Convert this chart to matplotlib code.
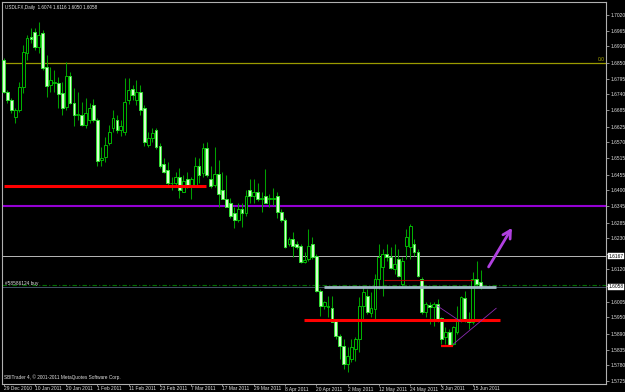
import matplotlib
matplotlib.use("Agg")
import matplotlib.pyplot as plt
import numpy as np

plt.rcParams['font.family'] = ['Liberation Sans', 'DejaVu Sans']

# ---- data (USDLFX daily, 29 Dec 2010 - 17 Jun 2011) ----
opens = [1.6861,1.6748,1.6720,1.6660,1.6685,1.6766,1.6886,1.6942,1.6960,1.6907,
         1.6957,1.6837,1.6773,1.6780,1.6780,1.6745,1.6695,1.6805,1.6709,1.6667,
         1.6667,1.6632,1.6649,1.6702,1.6649,1.6508,1.6519,1.6568,1.6621,1.6649,
         1.6614,1.6607,1.6720,1.6759,1.6720,1.6748,1.6692,1.6561,1.6586,1.6614,
         1.6558,1.6491,1.6473,1.6424,1.6427,1.6445,1.6395,1.6438,1.6413,1.6420,
         1.6484,1.6462,1.6551,1.6441,1.6420,1.6459,1.6402,1.6370,1.6353,1.6318,
         1.6296,1.6335,1.6318,1.6402,1.6381,1.6392,1.6370,1.6378,1.6367,1.6370,
         1.6378,1.6321,1.6293,1.6208,1.6226,1.6208,1.6201,1.6145,1.6155,1.6208,
         1.6166,1.6042,1.5989,1.5986,1.5982,1.5936,1.5883,1.5848,1.5785,1.5802,
         1.5838,1.5873,1.5989,1.6025,1.5965,1.5979,1.6085,1.6127,1.6173,1.6162,
         1.6120,1.6155,1.6067,1.6201,1.6198,1.6208,1.6180,1.6085,1.5968,1.5993,
         1.5986,1.5996,1.5947,1.5880,1.5898,1.5855,1.5898,1.5936,1.6018,1.5943,
         1.5933,1.6085,1.6074]
highs = [1.6868,1.6755,1.6727,1.6692,1.6784,1.6914,1.6949,1.6974,1.6974,1.6995,
         1.6967,1.6879,1.6837,1.6826,1.6801,1.6784,1.6854,1.6819,1.6762,1.6748,
         1.6713,1.6727,1.6709,1.6724,1.6656,1.6554,1.6589,1.6632,1.6685,1.6667,
         1.6649,1.6798,1.6798,1.6773,1.6791,1.6773,1.6702,1.6607,1.6621,1.6621,
         1.6568,1.6515,1.6498,1.6445,1.6466,1.6480,1.6455,1.6466,1.6445,1.6519,
         1.6515,1.6568,1.6572,1.6484,1.6554,1.6508,1.6466,1.6455,1.6374,1.6342,
         1.6353,1.6356,1.6402,1.6438,1.6441,1.6427,1.6392,1.6476,1.6385,1.6409,
         1.6392,1.6332,1.6303,1.6233,1.6251,1.6219,1.6208,1.6180,1.6261,1.6233,
         1.6173,1.6049,1.6007,1.6025,1.6025,1.5943,1.5890,1.5873,1.5845,1.5873,
         1.5880,1.6021,1.6056,1.6049,1.6039,1.6102,1.6208,1.6191,1.6208,1.6198,
         1.6208,1.6191,1.6162,1.6261,1.6279,1.6226,1.6191,1.6092,1.6003,1.6003,
         1.6003,1.6014,1.5950,1.5915,1.5908,1.5919,1.5989,1.6025,1.6042,1.5968,
         1.6109,1.6148,1.6116]
lows = [1.6745,1.6709,1.6674,1.6639,1.6678,1.6745,1.6861,1.6921,1.6897,1.6886,
        1.6826,1.6731,1.6748,1.6748,1.6692,1.6667,1.6685,1.6706,1.6628,1.6649,
        1.6628,1.6621,1.6639,1.6642,1.6487,1.6484,1.6501,1.6561,1.6607,1.6604,
        1.6593,1.6596,1.6706,1.6720,1.6702,1.6667,1.6558,1.6554,1.6572,1.6547,
        1.6480,1.6462,1.6416,1.6402,1.6413,1.6374,1.6392,1.6409,1.6367,1.6413,
        1.6427,1.6448,1.6448,1.6409,1.6413,1.6339,1.6367,1.6342,1.6303,1.6265,
        1.6289,1.6268,1.6307,1.6353,1.6356,1.6360,1.6321,1.6356,1.6342,1.6349,
        1.6303,1.6289,1.6194,1.6201,1.6162,1.6191,1.6141,1.6141,1.6148,1.6155,
        1.6039,1.5954,1.5979,1.5950,1.5933,1.5873,1.5802,1.5767,1.5756,1.5792,
        1.5795,1.5827,1.5943,1.5961,1.5950,1.5936,1.6049,1.6025,1.6148,1.6120,
        1.6102,1.6092,1.6060,1.6155,1.6155,1.6166,1.6092,1.5961,1.5950,1.5926,
        1.5919,1.5933,1.5855,1.5855,1.5848,1.5852,1.5890,1.5933,1.5933,1.5908,
        1.5926,1.6060,1.6050]
closes = [1.6748,1.6720,1.6685,1.6685,1.6766,1.6889,1.6939,1.6935,1.6907,1.6949,
          1.6833,1.6769,1.6791,1.6784,1.6741,1.6692,1.6805,1.6709,1.6667,1.6671,
          1.6632,1.6674,1.6692,1.6649,1.6505,1.6515,1.6561,1.6607,1.6656,1.6614,
          1.6628,1.6713,1.6755,1.6738,1.6748,1.6685,1.6572,1.6586,1.6604,1.6554,
          1.6487,1.6466,1.6424,1.6427,1.6445,1.6402,1.6431,1.6413,1.6438,1.6484,
          1.6455,1.6551,1.6452,1.6416,1.6459,1.6385,1.6370,1.6342,1.6310,1.6293,
          1.6332,1.6318,1.6378,1.6381,1.6392,1.6367,1.6374,1.6356,1.6374,1.6374,
          1.6321,1.6293,1.6198,1.6226,1.6201,1.6198,1.6145,1.6152,1.6201,1.6162,
          1.6042,1.5989,1.6003,1.5989,1.5933,1.5883,1.5848,1.5785,1.5813,1.5845,
          1.5873,1.5989,1.6039,1.5968,1.5982,1.6085,1.6162,1.6173,1.6162,1.6123,
          1.6138,1.6095,1.6148,1.6236,1.6272,1.6180,1.6095,1.5968,1.5996,1.5986,
          1.5996,1.5943,1.5873,1.5898,1.5852,1.5915,1.5943,1.6021,1.5936,1.5933,
          1.6085,1.6067,1.6058]

date_labels = ["29 Dec 2010", "10 Jan 2011", "20 Jan 2011", "1 Feb 2011", "11 Feb 2011",
               "23 Feb 2011", "7 Mar 2011", "17 Mar 2011", "29 Mar 2011", "8 Apr 2011",
               "20 Apr 2011", "2 May 2011", "12 May 2011", "24 May 2011", "3 Jun 2011",
               "15 Jun 2011"]
label_step = 8

price_ticks = [1.7020, 1.6965, 1.6910, 1.6850, 1.6795, 1.6740, 1.6685, 1.6625, 1.6570,
               1.6515, 1.6455, 1.6400, 1.6345, 1.6285, 1.6230, 1.6175, 1.6120, 1.6060,
               1.6005, 1.5950, 1.5890, 1.5835, 1.5780, 1.5725]
hidden_ticks = [1.6175, 1.6060]   # covered by the price boxes

fibo_level = 1.6850
purple_level = 1.6345
gray_level = 1.6167
bid_price = 1.6058
order_price = 1.6066
red_left_level = 1.6416
red_left_span = (0, 51.8)
red_right_level = 1.5940
red_right_span = (76.8, 127.0)
red_low_level = 1.5848
red_low_span = (112.0, 115.0)
thin_red_level = 1.6081
thin_red_span = (97.2, 120.2)
steel_level = 1.6056
steel_span = (81.9, 126.0)
trend1 = ((111.0, 1.5990), (116.8, 1.5936))
trend2 = ((115.0, 1.5855), (126.0, 1.5982))
arrow_pts = ((123.7, 1.6120), (130.4, 1.6275))

# ---- figure ----
W, H = 625, 392
fig = plt.figure(figsize=(W / 100, H / 100), dpi=100, facecolor='black')
ax = fig.add_axes([2 / W, 8 / H, 604 / W, 382 / H], facecolor='black')

n = len(opens)
x = np.arange(n)
o = np.array(opens); h = np.array(highs); l = np.array(lows); c = np.array(closes)
up = c >= o

# wicks
ax.vlines(x, l, h, color='#00a000', lw=0.75, zorder=3)
# bodies
body_w = 0.72
ax.bar(x[up], (c - o)[up], bottom=o[up], width=body_w, color='black',
       edgecolor='#00b800', linewidth=0.7, zorder=4)
ax.bar(x[~up], (o - c)[~up], bottom=c[~up], width=body_w, color='#d8ffd0',
       edgecolor='#30e030', linewidth=0.7, zorder=4)

# horizontal levels
ax.axhline(fibo_level, color='#9b9b00', lw=0.9, zorder=2)
ax.axhline(purple_level, color='#9400d3', lw=1.5, zorder=2)
ax.axhline(gray_level, color='#b8b8b8', lw=0.7, zorder=2)
ax.axhline(order_price, color='#007000', lw=0.8, dashes=(4, 2, 1, 2), zorder=2)
ax.axhline(bid_price, color='#445566', lw=0.7, zorder=2)

ax.hlines(red_left_level, *red_left_span, color='#ff0000', lw=2.2, zorder=5)
ax.hlines(red_right_level, *red_right_span, color='#ff0000', lw=2.2, zorder=5)
ax.hlines(red_low_level, *red_low_span, color='#ff0000', lw=1.6, zorder=5)
ax.hlines(thin_red_level, *thin_red_span, color='#b00000', lw=0.8, zorder=5)
ax.hlines(steel_level, *steel_span, color='#a0b8c4', lw=2.0, zorder=5)

for (x0, y0), (x1, y1) in (trend1, trend2):
    ax.plot([x0, x1], [y0, y1], color='#8a2bb0', lw=0.6, zorder=5)

ax.annotate('', xy=arrow_pts[1], xytext=arrow_pts[0],
            arrowprops=dict(arrowstyle='->,head_length=0.55,head_width=0.3',
                            color='#b040e0', lw=2.0), zorder=6)

ax.set_xlim(-0.4, 154.1)
ax.set_ylim(1.5714, 1.7066)

# ticks
ax.yaxis.tick_right()
ax.set_yticks(price_ticks)
ax.set_yticklabels(["" if p in hidden_ticks else f"{p:.4f}" for p in price_ticks])
ax.set_xticks(np.arange(len(date_labels)) * label_step)
ax.set_xticklabels(date_labels, ha='left')
ax.tick_params(axis='both', colors='#c8c8c8', labelcolor='#e0e0e0', labelsize=3.5,
               length=2, width=0.5, pad=1)
ax.tick_params(axis='x', length=1.5, pad=0.3)
for sp in ax.spines.values():
    sp.set_color('#b0b0b0'); sp.set_linewidth(0.8)

# texts
ax.text(0.005, 0.993, "USDLFX,Daily  1.6074 1.6116 1.6050 1.6058", transform=ax.transAxes,
        color='#e8e8e8', fontsize=3.3, va='top', ha='left')
ax.text(0.005, bid_price + 0.0004, "#58586124 buy", color='#e0e0e0', fontsize=3.4,
        va='bottom', ha='left', transform=ax.get_yaxis_transform())
ax.text(0.003, 0.010, "SBITrader 4, \u00a9 2001-2011 MetaQuotes Software Corp.",
        transform=ax.transAxes, color='#e0e0e0', fontsize=3.4, va='bottom', ha='left')
ax.text(0.998, fibo_level + 0.0003, "0.0", color='#b0b000', fontsize=3.5,
        va='bottom', ha='right', transform=ax.get_yaxis_transform())

for p in (gray_level, bid_price):
    ax.text(1.004, p, f"{p:.4f}", color='black', fontsize=3.5, va='center', ha='left',
            transform=ax.get_yaxis_transform(), zorder=10, clip_on=False,
            bbox=dict(boxstyle='square,pad=0.15', fc='white', ec='white', lw=0.3))

fig.savefig('out.png', dpi=100, facecolor='black')
